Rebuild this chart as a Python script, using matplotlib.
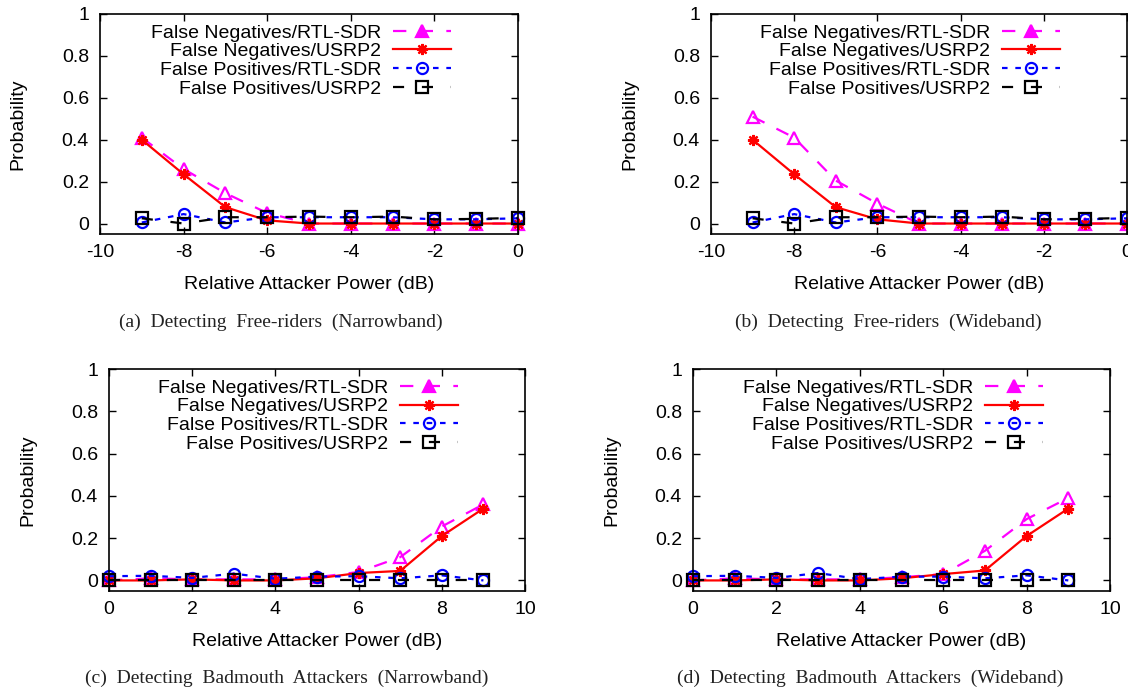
import numpy as np
import matplotlib
matplotlib.use("Agg")
import matplotlib.pyplot as plt

plt.rcParams["font.family"] = ["Liberation Sans", "DejaVu Sans"]
plt.rcParams["axes.unicode_minus"] = False

# x values (relative attacker power, dB)
x_free = [-9, -8, -7, -6, -5, -4, -3, -2, -1, 0]
x_bad = [0, 1, 2, 3, 4, 5, 6, 7, 8, 9]

# (a) free-riders, narrowband
fn_rtl_a = [0.41, 0.26, 0.145, 0.05, 0.0, 0.0, 0.0, 0.0, 0.0, 0.0]
fn_usrp_a = [0.40, 0.235, 0.078, 0.015, 0.0, 0.0, 0.0, 0.0, 0.0, 0.0]
fp_rtl_a = [0.005, 0.045, 0.005, 0.03, 0.03, 0.03, 0.03, 0.02, 0.02, 0.025]
fp_usrp_a = [0.025, 0.0, 0.03, 0.03, 0.033, 0.03, 0.033, 0.02, 0.022, 0.027]

# (b) free-riders, wideband
fn_rtl_b = [0.51, 0.41, 0.205, 0.095, 0.0, 0.0, 0.0, 0.0, 0.0, 0.0]
fn_usrp_b = [0.40, 0.235, 0.078, 0.02, 0.0, 0.0, 0.0, 0.0, 0.0, 0.0]
fp_rtl_b = [0.005, 0.045, 0.005, 0.03, 0.03, 0.03, 0.03, 0.02, 0.02, 0.025]
fp_usrp_b = [0.025, 0.0, 0.03, 0.03, 0.033, 0.03, 0.033, 0.02, 0.022, 0.027]

# (c) badmouth attackers, narrowband
fn_rtl_c = [0.0, 0.01, 0.005, 0.005, 0.005, 0.015, 0.04, 0.11, 0.255, 0.36]
fn_usrp_c = [0.0, 0.0, 0.005, 0.0, 0.0, 0.01, 0.035, 0.045, 0.21, 0.34]
fp_rtl_c = [0.02, 0.022, 0.012, 0.032, 0.008, 0.018, 0.02, 0.01, 0.024, 0.0]
fp_usrp_c = [0.0, 0.0, 0.0, 0.0, 0.0, 0.0, 0.0, 0.0, 0.0, 0.0]

# (d) badmouth attackers, wideband
fn_rtl_d = [0.0, 0.01, 0.005, 0.005, 0.005, 0.015, 0.03, 0.14, 0.29, 0.39]
fn_usrp_d = [0.0, 0.0, 0.005, 0.0, 0.0, 0.01, 0.03, 0.047, 0.21, 0.34]
fp_rtl_d = [0.02, 0.022, 0.012, 0.035, 0.006, 0.018, 0.018, 0.01, 0.024, 0.0]
fp_usrp_d = [0.0, 0.0, 0.0, 0.0, 0.0, 0.0, 0.0, 0.0, 0.0, 0.0]

labels = ["False Negatives/RTL-SDR", "False Negatives/USRP2",
          "False Positives/RTL-SDR", "False Positives/USRP2"]
captions = ["(a)  Detecting  Free-riders  (Narrowband)",
            "(b)  Detecting  Free-riders  (Wideband)",
            "(c)  Detecting  Badmouth  Attackers  (Narrowband)",
            "(d)  Detecting  Badmouth  Attackers  (Wideband)"]

W, H = 1128, 692


def px_axes(fig, left, right, top, bottom):
    """Add axes from pixel box"""
    return fig.add_axes([left / W, (H - bottom) / H,
                         (right - left) / W, (bottom - top) / H])


def fill_panel(ax, x, series, xlim, xticks, leg_x):
    styles = [
        dict(color="magenta", ls=(0, (6, 6)), marker="^", mfc="none"),
        dict(color="red", ls="-", marker=(8, 2, 0)),
        dict(color="blue", ls=(0, (2.5, 3.5)), marker="o", mfc="none"),
        dict(color="black", ls=(0, (5, 8)), marker="s", mfc="none"),
    ]
    for y, lab, st in zip(series, labels, styles):
        ax.plot(x, y, label=lab, lw=1.6, ms=8, mew=1.6, clip_on=False, **st)

    ax.set_xlim(*xlim)
    ax.set_ylim(-0.05, 1)
    ax.set_xticks(xticks)
    ax.set_yticks([0, 0.2, 0.4, 0.6, 0.8, 1])
    ax.set_yticklabels(["0", "0.2", "0.4", "0.6", "0.8", "1"])
    ax.tick_params(direction="in", top=True, right=True, length=5,
                   width=1, labelsize=14)
    ax.tick_params(axis="x", pad=7)
    ax.tick_params(axis="y", pad=8)
    for sp in ax.spines.values():
        sp.set_linewidth(1.2)
    ax.set_xlabel("Relative Attacker Power (dB)", fontsize=14, labelpad=11)
    ax.set_ylabel("Probability", fontsize=14)
    ax.yaxis.set_label_coords(-0.175, 0.5)
    leg = ax.legend(loc="upper right", bbox_to_anchor=(leg_x, 0.955),
                    frameon=False, markerfirst=False, fontsize=14,
                    handlelength=3.0, handletextpad=0.6, labelspacing=0.06,
                    borderpad=0, borderaxespad=0, numpoints=1)
    # gnuplot key shows a filled triangle
    leg.legend_handles[0].set_markerfacecolor("magenta")


fig = plt.figure(figsize=(W / 100, H / 100), dpi=100)

ax_a = px_axes(fig, 100, 518, 14, 234)
fill_panel(ax_a, x_free, [fn_rtl_a, fn_usrp_a, fp_rtl_a, fp_usrp_a],
           (-10, 0), [-10, -8, -6, -4, -2, 0], 0.84)

ax_b = px_axes(fig, 711, 1127, 14, 234)
fill_panel(ax_b, x_free, [fn_rtl_b, fn_usrp_b, fp_rtl_b, fp_usrp_b],
           (-10, 0), [-10, -8, -6, -4, -2, 0], 0.84)

ax_c = px_axes(fig, 109, 525, 369, 591)
fill_panel(ax_c, x_bad, [fn_rtl_c, fn_usrp_c, fp_rtl_c, fp_usrp_c],
           (0, 10), [0, 2, 4, 6, 8, 10], 0.84)

ax_d = px_axes(fig, 693, 1110, 369, 591)
fill_panel(ax_d, x_bad, [fn_rtl_d, fn_usrp_d, fp_rtl_d, fp_usrp_d],
           (0, 10), [0, 2, 4, 6, 8, 10], 0.84)

cap_pos = [(281, 322), (888, 322), (287, 678), (870, 678)]
for (cx, cy), cap in zip(cap_pos, captions):
    fig.text(cx / W, 1 - cy / H, cap, ha="center", va="center",
             fontsize=14, color="#222222", family="Liberation Serif")

plt.savefig("out.png", dpi=100)
